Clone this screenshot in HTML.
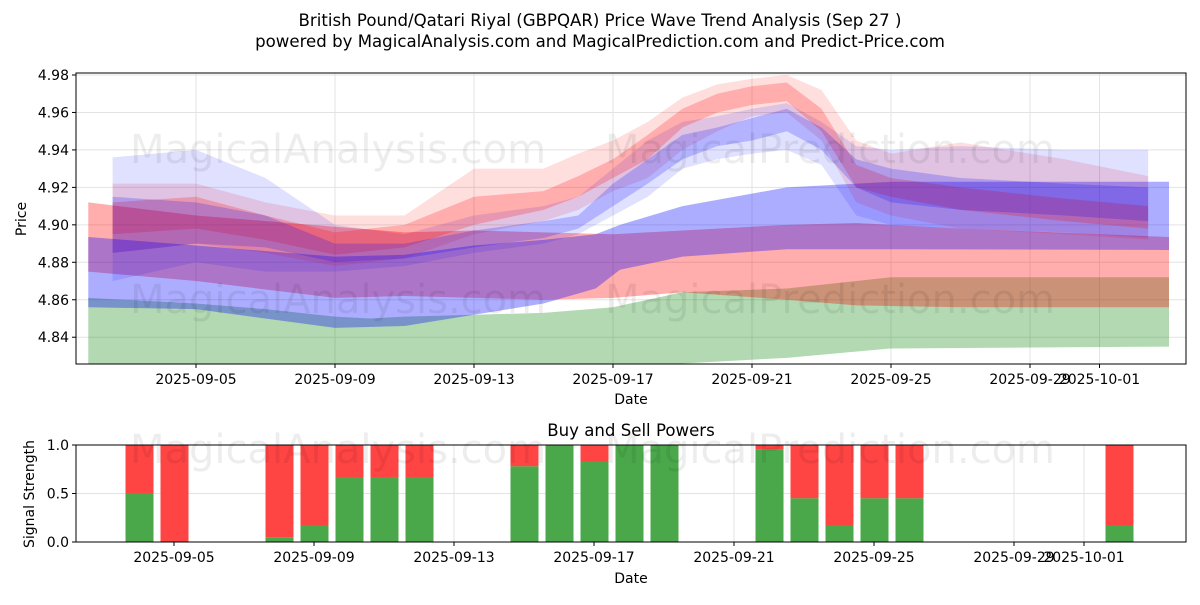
<!DOCTYPE html>
<html><head><meta charset="utf-8"><style>
body{margin:0;background:#fff;}
svg text{font-family:"DejaVu Sans","Liberation Sans",sans-serif;}
</style></head><body>
<svg id="chart" width="1200" height="600" xmlns="http://www.w3.org/2000/svg">
<rect width="1200" height="600" fill="#fff"/>
<text x="600" y="26" text-anchor="middle" font-size="16.6">British Pound/Qatari Riyal (GBPQAR) Price Wave Trend Analysis (Sep 27 )</text>
<text x="600" y="47" text-anchor="middle" font-size="16.6">powered by MagicalAnalysis.com and MagicalPrediction.com and Predict-Price.com</text>
<g id="main"></g>
<g id="sub"></g>
</svg>
<script>
// ---- main chart data (day index: 0 = 2025-09-02) ----
const greenDays=[-0.1,3,5,7,8,9,11,13,15,17,20,23,31];
const greenUpper=[4.861,4.858,4.855,4.851,4.850,4.851,4.852,4.853,4.856,4.864,4.866,4.872,4.872];
const greenLower=[4.825,4.825,4.825,4.825,4.825,4.825,4.825,4.825,4.825,4.826,4.829,4.834,4.835];
const redDays=[-0.1,3,7,9,11,13,15,17,20,22,25,31];
const redUpper=[4.912,4.905,4.899,4.896,4.897,4.896,4.895,4.897,4.900,4.901,4.898,4.8935];
const redLower=[4.875,4.870,4.861,4.862,4.861,4.860,4.861,4.864,4.860,4.857,4.856,4.856];
const blueDays=[-0.1,3,7,9,11,13,14.5,15.2,17,20,23,31];
const blueUpper=[4.8935,4.889,4.883,4.884,4.889,4.892,4.895,4.900,4.910,4.920,4.923,4.923];
const blueLower=[4.856,4.855,4.845,4.846,4.852,4.858,4.866,4.876,4.883,4.887,4.887,4.8866];
const fanDays=[0.6,3,5,7,9,11,13,14,15,16,17,18,19,20,21,22,23,25,28,30.4];
const redFanAUp=[4.922,4.922,4.912,4.905,4.905,4.930,4.930,4.938,4.945,4.955,4.968,4.975,4.978,4.980,4.972,4.945,4.938,4.944,4.935,4.926];
const redFanALo=[4.885,4.890,4.885,4.878,4.882,4.895,4.902,4.908,4.918,4.925,4.940,4.950,4.958,4.960,4.945,4.912,4.905,4.898,4.895,4.892];
const redFanBUp=[4.912,4.915,4.905,4.896,4.900,4.915,4.918,4.926,4.935,4.948,4.962,4.970,4.974,4.976,4.962,4.932,4.925,4.920,4.914,4.910];
const redFanBLo=[4.895,4.898,4.892,4.884,4.888,4.900,4.908,4.915,4.925,4.935,4.952,4.960,4.964,4.966,4.950,4.920,4.915,4.908,4.902,4.898];
const blueFanAUp=[4.936,4.940,4.925,4.900,4.895,4.905,4.910,4.915,4.930,4.945,4.955,4.958,4.962,4.965,4.955,4.942,4.940,4.942,4.940,4.940];
const blueFanALo=[4.870,4.880,4.875,4.875,4.878,4.885,4.890,4.895,4.905,4.915,4.930,4.935,4.938,4.940,4.932,4.905,4.900,4.898,4.896,4.893];
const blueFanBUp=[4.915,4.912,4.905,4.890,4.890,4.897,4.902,4.905,4.922,4.935,4.948,4.952,4.957,4.962,4.952,4.935,4.930,4.925,4.922,4.920];
const blueFanBLo=[4.885,4.890,4.888,4.880,4.882,4.888,4.893,4.898,4.910,4.922,4.935,4.942,4.945,4.950,4.940,4.920,4.912,4.908,4.905,4.902];
const yTicks=[4.84,4.86,4.88,4.90,4.92,4.94,4.96,4.98];
const xTickDays=[3,7,11,15,19,23,27,29];
const xTickLabels=["2025-09-05","2025-09-09","2025-09-13","2025-09-17","2025-09-21","2025-09-25","2025-09-29","2025-10-01"];
// ---- signal data ----
const barDays=[2,3,6,7,8,9,10,13,14,15,16,17,20,21,22,23,24,30];
const buyValues=[0.5,0,0.05,0.17,0.67,0.67,0.67,0.78,1.0,0.83,1.0,1.0,0.95,0.45,0.17,0.45,0.45,0.17];
const sigTicks=[0,0.5,1.0];
const sigTickLabels=["0.0","0.5","1.0"];

const NS="http://www.w3.org/2000/svg";
function mk(parent,tag,attrs,text){const e=document.createElementNS(NS,tag);for(const k in attrs)e.setAttribute(k,attrs[k]);if(text!==undefined)e.textContent=text;parent.appendChild(e);return e;}
const PL=76,PR=1186,PT=73,PB=364;
const xMain=d=>196+(d-3)*34.75;
const yMain=v=>75+(4.98-v)*1873;
const SL=76,SR=1186,ST=445,SB=542;
const xSub=d=>174+(d-3)*35;
const ySub=v=>SB-v*(SB-ST);
const main=document.getElementById('main');
const sub=document.getElementById('sub');
const FS=14;

xTickDays.forEach((d,i)=>{
  const g=mk(main,'line',{x1:xMain(d),x2:xMain(d),y1:PT,y2:PB,stroke:'#e3e3e3','stroke-width':1});
  
  
});
yTicks.forEach(v=>{
  const g=mk(main,'line',{x1:PL,x2:PR,y1:yMain(v),y2:yMain(v),stroke:'#e3e3e3','stroke-width':1});
  
  
});
function band(parent,days,up,lo,fill,op,name){
  let pts=days.map((d,i)=>xMain(d)+','+Math.max(PT,Math.min(PB,yMain(up[i]))));
  for(let i=days.length-1;i>=0;i--)pts.push(xMain(days[i])+','+Math.max(PT,Math.min(PB,yMain(lo[i]))));
  const p=mk(parent,'polygon',{points:pts.join(' '),fill:fill,'fill-opacity':op});
  
  
}
const clipG=mk(main,'g',{});
band(clipG,greenDays,greenUpper,greenLower,'#008000',0.3,'green-band');
band(clipG,redDays,redUpper,redLower,'#ff0000',0.32,'red-band');
band(clipG,blueDays,blueUpper,blueLower,'#0000ff',0.32,'blue-band');
band(clipG,fanDays,redFanAUp,redFanALo,'#ff0000',0.13,'red-fan-outer');
band(clipG,fanDays,blueFanAUp,blueFanALo,'#0000ff',0.12,'blue-fan-outer');
band(clipG,fanDays,redFanBUp,redFanBLo,'#ff0000',0.22,'red-fan-inner');
band(clipG,fanDays,blueFanBUp,blueFanBLo,'#0000ff',0.2,'blue-fan-inner');
[[130,163,'MagicalAnalysis.com'],[605,163,'MagicalPrediction.com'],[130,313,'MagicalAnalysis.com'],[605,313,'MagicalPrediction.com']].forEach(w=>{
  const t=mk(main,'text',{x:w[0],y:w[1],'font-size':40,fill:'#000','fill-opacity':0.07},w[2]);
  
  
});
const fr=mk(main,'rect',{x:PL,y:PT,width:PR-PL,height:PB-PT,fill:'none',stroke:'#000','stroke-width':1});


yTicks.forEach(v=>{
  mk(main,'line',{x1:PL-4,x2:PL,y1:yMain(v),y2:yMain(v),stroke:'#000'});
  const t=mk(main,'text',{x:PL-7,y:yMain(v)+5,'font-size':FS,'text-anchor':'end'},v.toFixed(2));
  
  
});
xTickDays.forEach((d,i)=>{
  mk(main,'line',{x1:xMain(d),x2:xMain(d),y1:PB,y2:PB+4,stroke:'#000'});
  const t=mk(main,'text',{x:xMain(d),y:PB+20,'font-size':FS,'text-anchor':'middle'},xTickLabels[i]);
  
  
});
let t=mk(main,'text',{x:631,y:404,'font-size':FS,'text-anchor':'middle'},'Date');


t=mk(main,'text',{x:26,y:219,'font-size':FS,'text-anchor':'middle',transform:'rotate(-90 26 219)'},'Price');



xTickDays.forEach(d=>{
  const g=mk(sub,'line',{x1:xSub(d),x2:xSub(d),y1:ST,y2:SB,stroke:'#e3e3e3'});
  
  
});
sigTicks.forEach(v=>{
  const g=mk(sub,'line',{x1:SL,x2:SR,y1:ySub(v),y2:ySub(v),stroke:'#e3e3e3'});
  
  
});
barDays.forEach((d,i)=>{
  const x=xSub(d)-13.5;
  const r=mk(sub,'rect',{x:x,y:ySub(1),width:28,height:ySub(buyValues[i])-ySub(1),fill:'#ff4444'});
  
  
  const g=mk(sub,'rect',{x:x,y:ySub(buyValues[i]),width:28,height:SB-ySub(buyValues[i]),fill:'#4aa84a'});
  
  
});
[[130,463,'MagicalAnalysis.com'],[605,463,'MagicalPrediction.com']].forEach(w=>{
  const tt=mk(sub,'text',{x:w[0],y:w[1],'font-size':40,fill:'#000','fill-opacity':0.07},w[2]);
  
  
});
const fr2=mk(sub,'rect',{x:SL,y:ST,width:SR-SL,height:SB-ST,fill:'none',stroke:'#000'});


sigTicks.forEach((v,i)=>{
  mk(sub,'line',{x1:SL-4,x2:SL,y1:ySub(v),y2:ySub(v),stroke:'#000'});
  const tt=mk(sub,'text',{x:SL-7,y:ySub(v)+5,'font-size':FS,'text-anchor':'end'},sigTickLabels[i]);
  
  
});
xTickDays.forEach((d,i)=>{
  mk(sub,'line',{x1:xSub(d),x2:xSub(d),y1:SB,y2:SB+4,stroke:'#000'});
  const tt=mk(sub,'text',{x:xSub(d),y:SB+20,'font-size':FS,'text-anchor':'middle'},xTickLabels[i]);
  
  
});
t=mk(sub,'text',{x:631,y:436,'font-size':16.6,'text-anchor':'middle'},'Buy and Sell Powers');


t=mk(sub,'text',{x:631,y:583,'font-size':FS,'text-anchor':'middle'},'Date');


t=mk(sub,'text',{x:34,y:494,'font-size':FS,'text-anchor':'middle',transform:'rotate(-90 34 494)'},'Signal Strength');


</script>
</body></html>
